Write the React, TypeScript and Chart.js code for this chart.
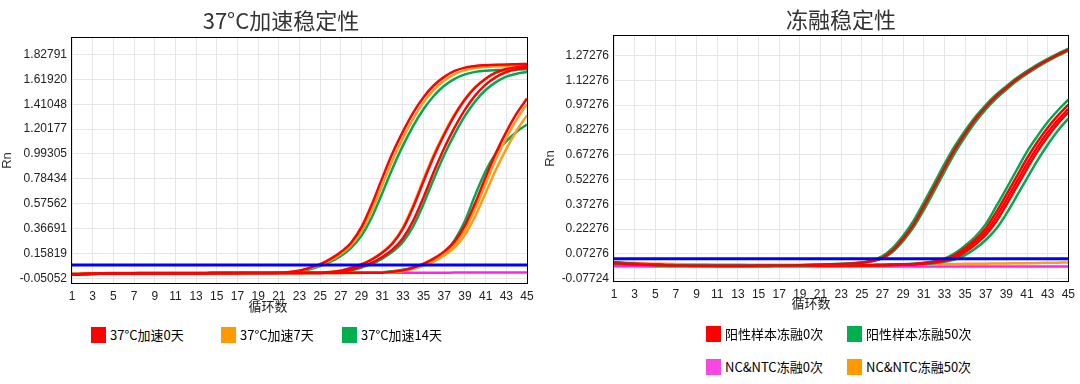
import React, { useEffect, useRef } from "react";
import { Chart, registerables } from "chart.js";

Chart.register(...registerables);

// ---------- shared categories / ticks ----------
const cycles = [
  1, 2, 3, 4, 5, 6, 7, 8, 9, 10, 11, 12, 13, 14, 15, 16, 17, 18, 19, 20, 21, 22, 23,
  24, 25, 26, 27, 28, 29, 30, 31, 32, 33, 34, 35, 36, 37, 38, 39, 40, 41, 42, 43, 44, 45,
];
const xTickValues = [1, 3, 5, 7, 9, 11, 13, 15, 17, 19, 21, 23, 25, 27, 29, 31, 33, 35, 37, 39, 41, 43, 45];

// ---------- left chart: 37°C加速稳定性 ----------
const leftTitle = "37°C加速稳定性";
const leftYTicks = [-0.05052, 0.15819, 0.36691, 0.57562, 0.78434, 0.99305, 1.20177, 1.41048, 1.6192, 1.82791];
const leftYMin = -0.099;
const leftYMax = 1.975;
const leftThreshold = 0.061;

const day0A = [
  -0.020, -0.016, -0.013, -0.011, -0.010, -0.009, -0.009, -0.008, -0.008, -0.008,
  -0.008, -0.008, -0.008, -0.008, -0.007, -0.007, -0.007, -0.007, -0.007, -0.006,
  -0.004, 0.002, 0.014, 0.038, 0.068, 0.112, 0.170, 0.250, 0.380, 0.570,
  0.790, 1.000, 1.180, 1.340, 1.470, 1.570, 1.640, 1.690, 1.718, 1.732,
  1.738, 1.742, 1.745, 1.747, 1.749,
];
const day0B1 = [
  -0.020, -0.016, -0.013, -0.011, -0.010, -0.009, -0.009, -0.008, -0.008, -0.008,
  -0.008, -0.008, -0.008, -0.008, -0.007, -0.007, -0.007, -0.007, -0.007, -0.006,
  -0.006, -0.006, -0.006, -0.005, -0.005, 0.001, 0.013, 0.035, 0.065, 0.107,
  0.163, 0.241, 0.365, 0.548, 0.764, 0.974, 1.156, 1.317, 1.450, 1.552,
  1.625, 1.677, 1.706, 1.722, 1.729,
];
const day0B2 = [
  -0.022, -0.018, -0.015, -0.013, -0.011, -0.010, -0.010, -0.009, -0.009, -0.009,
  -0.009, -0.008, -0.008, -0.008, -0.008, -0.008, -0.008, -0.007, -0.007, -0.007,
  -0.007, -0.007, -0.006, -0.006, -0.006, -0.003, 0.006, 0.021, 0.047, 0.080,
  0.128, 0.192, 0.286, 0.433, 0.630, 0.845, 1.043, 1.216, 1.365, 1.485,
  1.575, 1.638, 1.681, 1.705, 1.717,
];
const day0C = [
  -0.020, -0.016, -0.013, -0.011, -0.010, -0.009, -0.009, -0.008, -0.008, -0.008,
  -0.008, -0.008, -0.008, -0.008, -0.007, -0.007, -0.007, -0.007, -0.007, -0.006,
  -0.006, -0.006, -0.006, -0.006, -0.006, -0.006, -0.006, -0.005, -0.005, -0.005,
  -0.004, 0.003, 0.016, 0.040, 0.071, 0.116, 0.175, 0.259, 0.393, 0.583,
  0.799, 1.003, 1.178, 1.333, 1.458,
];
const day7A = [
  -0.016, -0.013, -0.011, -0.010, -0.009, -0.008, -0.008, -0.007, -0.007, -0.007,
  -0.007, -0.007, -0.006, -0.006, -0.006, -0.006, -0.006, -0.006, -0.005, -0.005,
  -0.005, -0.001, 0.011, 0.032, 0.060, 0.100, 0.154, 0.228, 0.345, 0.518,
  0.729, 0.940, 1.126, 1.290, 1.426, 1.533, 1.610, 1.664, 1.697, 1.715,
  1.723, 1.727, 1.730, 1.733, 1.735,
];
const day7B = [
  -0.016, -0.013, -0.011, -0.010, -0.009, -0.008, -0.008, -0.007, -0.007, -0.007,
  -0.007, -0.007, -0.006, -0.006, -0.006, -0.006, -0.006, -0.006, -0.005, -0.005,
  -0.005, -0.005, -0.004, -0.004, -0.003, 0.002, 0.014, 0.038, 0.068, 0.111,
  0.168, 0.248, 0.376, 0.564, 0.782, 0.990, 1.168, 1.327, 1.455, 1.554,
  1.624, 1.673, 1.701, 1.715, 1.721,
];
const day7C1 = [
  -0.016, -0.013, -0.011, -0.010, -0.009, -0.008, -0.008, -0.007, -0.007, -0.007,
  -0.007, -0.007, -0.006, -0.006, -0.006, -0.006, -0.006, -0.006, -0.005, -0.005,
  -0.005, -0.005, -0.005, -0.005, -0.005, -0.005, -0.004, -0.004, -0.004, -0.004,
  -0.004, 0.001, 0.012, 0.035, 0.063, 0.104, 0.159, 0.235, 0.356, 0.534,
  0.745, 0.950, 1.127, 1.284, 1.413,
];
const day7C2 = [
  -0.022, -0.018, -0.015, -0.013, -0.011, -0.010, -0.010, -0.009, -0.009, -0.009,
  -0.009, -0.008, -0.008, -0.008, -0.008, -0.008, -0.008, -0.007, -0.007, -0.007,
  -0.007, -0.007, -0.007, -0.007, -0.006, -0.006, -0.006, -0.006, -0.006, -0.005,
  -0.005, 0.000, 0.010, 0.028, 0.054, 0.091, 0.140, 0.208, 0.314, 0.472,
  0.666, 0.862, 1.036, 1.189, 1.317,
];
const day14A = [
  -0.022, -0.018, -0.015, -0.013, -0.011, -0.010, -0.010, -0.009, -0.009, -0.009,
  -0.009, -0.008, -0.008, -0.008, -0.008, -0.008, -0.008, -0.007, -0.007, -0.007,
  -0.006, -0.002, 0.008, 0.025, 0.052, 0.088, 0.137, 0.205, 0.307, 0.463,
  0.663, 0.873, 1.063, 1.229, 1.370, 1.482, 1.565, 1.623, 1.661, 1.682,
  1.692, 1.697, 1.700, 1.702, 1.704,
];
const day14B = [
  -0.016, -0.013, -0.011, -0.010, -0.009, -0.008, -0.008, -0.007, -0.007, -0.007,
  -0.007, -0.007, -0.006, -0.006, -0.006, -0.006, -0.006, -0.006, -0.005, -0.005,
  -0.005, -0.005, -0.005, -0.004, -0.004, -0.003, 0.003, 0.016, 0.040, 0.070,
  0.114, 0.173, 0.255, 0.387, 0.574, 0.787, 0.987, 1.160, 1.312, 1.436,
  1.530, 1.596, 1.642, 1.667, 1.681,
];
const day14C = [
  -0.020, -0.016, -0.013, -0.011, -0.010, -0.009, -0.009, -0.008, -0.008, -0.008,
  -0.008, -0.008, -0.008, -0.008, -0.007, -0.007, -0.007, -0.007, -0.007, -0.006,
  -0.006, -0.006, -0.006, -0.006, -0.006, -0.005, -0.005, -0.005, -0.004, -0.003,
  0.000, 0.008, 0.020, 0.038, 0.060, 0.095, 0.160, 0.270, 0.430, 0.650,
  0.850, 1.000, 1.100, 1.180, 1.240,
];
const ntcLeft = [
  -0.010, -0.009, -0.008, -0.008, -0.007, -0.007, -0.007, -0.006, -0.006, -0.006,
  -0.006, -0.006, -0.006, -0.006, -0.006, -0.005, -0.005, -0.005, -0.005, -0.005,
  -0.005, -0.005, -0.005, -0.005, -0.005, -0.005, -0.004, -0.004, -0.004, -0.004,
  -0.004, -0.004, -0.004, -0.004, -0.004, -0.004, -0.004, -0.003, -0.003, -0.003,
  -0.003, -0.003, -0.003, -0.003, -0.003,
];
const leftLegendLabels = ["37°C加速0天", "37°C加速7天", "37°C加速14天"];

// ---------- right chart: 冻融稳定性 ----------
const rightTitle = "冻融稳定性";
const rightYTicks = [-0.07724, 0.07276, 0.22276, 0.37276, 0.52276, 0.67276, 0.82276, 0.97276, 1.12276, 1.27276];
const rightYMin = -0.097;
const rightYMax = 1.396;
const rightThreshold = 0.0435;

const ft0High = [
  0.016, 0.013, 0.010, 0.008, 0.006, 0.004, 0.003, 0.002, 0.001, 0.001,
  0.001, 0.001, 0.001, 0.001, 0.002, 0.002, 0.003, 0.003, 0.004, 0.006,
  0.008, 0.010, 0.012, 0.015, 0.020, 0.030, 0.050, 0.095, 0.165, 0.250,
  0.360, 0.475, 0.592, 0.705, 0.800, 0.888, 0.960, 1.025, 1.077, 1.128,
  1.170, 1.210, 1.245, 1.278, 1.307,
];
const ft50HighA = [
  0.018, 0.015, 0.012, 0.009, 0.007, 0.005, 0.004, 0.003, 0.002, 0.002,
  0.002, 0.002, 0.002, 0.002, 0.002, 0.003, 0.003, 0.004, 0.005, 0.007,
  0.009, 0.011, 0.013, 0.016, 0.022, 0.034, 0.059, 0.109, 0.182, 0.272,
  0.383, 0.498, 0.615, 0.724, 0.818, 0.902, 0.973, 1.035, 1.087, 1.136,
  1.178, 1.217, 1.252, 1.284, 1.313,
];
const ft50HighB = [
  0.014, 0.011, 0.009, 0.007, 0.005, 0.003, 0.002, 0.001, 0.000, 0.000,
  0.000, 0.000, 0.000, 0.000, 0.001, 0.001, 0.002, 0.002, 0.003, 0.005,
  0.007, 0.009, 0.011, 0.014, 0.019, 0.028, 0.046, 0.086, 0.151, 0.233,
  0.338, 0.452, 0.569, 0.682, 0.781, 0.870, 0.946, 1.012, 1.067, 1.118,
  1.162, 1.202, 1.238, 1.271, 1.301,
];
const ft0LowA = [
  0.017, 0.014, 0.011, 0.008, 0.006, 0.004, 0.003, 0.002, 0.001, 0.001,
  0.000, 0.000, 0.000, 0.000, 0.000, 0.000, 0.001, 0.001, 0.001, 0.001,
  0.002, 0.002, 0.002, 0.003, 0.003, 0.004, 0.005, 0.007, 0.009, 0.012,
  0.017, 0.026, 0.039, 0.066, 0.108, 0.160, 0.228, 0.323, 0.431, 0.541,
  0.651, 0.749, 0.836, 0.910, 0.976,
];
const ft0LowB = [
  0.022, 0.018, 0.014, 0.011, 0.008, 0.006, 0.005, 0.004, 0.003, 0.002,
  0.002, 0.002, 0.001, 0.001, 0.001, 0.001, 0.001, 0.002, 0.002, 0.002,
  0.003, 0.003, 0.004, 0.004, 0.005, 0.005, 0.006, 0.007, 0.009, 0.011,
  0.016, 0.024, 0.035, 0.058, 0.095, 0.145, 0.207, 0.294, 0.399, 0.508,
  0.617, 0.718, 0.806, 0.883, 0.949,
];
const ft0LowC = [
  0.020, 0.016, 0.012, 0.009, 0.007, 0.005, 0.004, 0.003, 0.002, 0.002,
  0.001, 0.001, 0.001, 0.001, 0.001, 0.001, 0.001, 0.001, 0.002, 0.002,
  0.002, 0.003, 0.003, 0.004, 0.004, 0.005, 0.006, 0.006, 0.008, 0.010,
  0.015, 0.021, 0.032, 0.049, 0.083, 0.130, 0.188, 0.267, 0.370, 0.478,
  0.587, 0.691, 0.781, 0.861, 0.929,
];
const ft50LowTop = [
  0.020, 0.016, 0.012, 0.009, 0.007, 0.005, 0.004, 0.003, 0.002, 0.002,
  0.001, 0.001, 0.001, 0.001, 0.001, 0.001, 0.001, 0.001, 0.002, 0.002,
  0.002, 0.003, 0.003, 0.004, 0.004, 0.005, 0.006, 0.008, 0.010, 0.014,
  0.020, 0.029, 0.044, 0.076, 0.123, 0.178, 0.253, 0.358, 0.468, 0.580,
  0.691, 0.784, 0.870, 0.941, 1.005,
];
const ft50LowBottom = [
  0.017, 0.014, 0.011, 0.008, 0.006, 0.004, 0.003, 0.002, 0.001, 0.001,
  0.000, 0.000, 0.000, 0.000, 0.000, 0.000, 0.001, 0.001, 0.001, 0.001,
  0.002, 0.002, 0.002, 0.003, 0.003, 0.004, 0.005, 0.006, 0.007, 0.009,
  0.012, 0.017, 0.026, 0.038, 0.065, 0.105, 0.157, 0.223, 0.316, 0.422,
  0.530, 0.637, 0.733, 0.819, 0.891,
];
const ntcFt0 = [
  -0.001, -0.002, -0.002, -0.003, -0.003, -0.003, -0.003, -0.004, -0.004, -0.004,
  -0.004, -0.004, -0.004, -0.004, -0.004, -0.004, -0.004, -0.004, -0.004, -0.004,
  -0.004, -0.004, -0.004, -0.004, -0.004, -0.004, -0.004, -0.004, -0.004, -0.004,
  -0.004, -0.004, -0.004, -0.004, -0.004, -0.003, -0.003, -0.003, -0.003, -0.003,
  -0.003, -0.003, -0.003, -0.003, -0.003,
];
const ntcFt50 = [
  0.022, 0.020, 0.018, 0.016, 0.014, 0.013, 0.012, 0.011, 0.010, 0.010,
  0.009, 0.009, 0.009, 0.008, 0.008, 0.008, 0.008, 0.008, 0.008, 0.008,
  0.008, 0.008, 0.008, 0.009, 0.009, 0.009, 0.009, 0.010, 0.010, 0.010,
  0.011, 0.011, 0.012, 0.012, 0.013, 0.013, 0.014, 0.015, 0.015, 0.016,
  0.017, 0.018, 0.019, 0.020, 0.021,
];
const rightLegendLabels = ["阳性样本冻融0次", "阳性样本冻融50次", "NC&NTC冻融0次", "NC&NTC冻融50次"];

// ---------- styles ----------
const RED = "#ff0000";
const ORANGE = "#ff9a1a";
const GREEN = "#00a850";
const MAGENTA = "#ff22ee";
const BLUE = "#0000ff";
const LEG_RED = "#ff0000";
const LEG_ORANGE = "#ff9900";
const LEG_GREEN = "#00b050";
const LEG_MAGENTA = "#f848e4";

const CJK = '"Noto Sans CJK SC", "Noto Sans", sans-serif';
const LAT = '"Liberation Sans", Arial, sans-serif';

type Line = { values: number[]; color: string };

const leftLines: Line[] = [
  { values: day0A, color: RED },
  { values: day0B1, color: RED },
  { values: day0B2, color: RED },
  { values: day0C, color: RED },
  { values: day7A, color: ORANGE },
  { values: day7B, color: ORANGE },
  { values: day7C1, color: ORANGE },
  { values: day7C2, color: ORANGE },
  { values: day14A, color: GREEN },
  { values: day14B, color: GREEN },
  { values: day14C, color: GREEN },
  { values: ntcLeft, color: MAGENTA },
];

const rightLines: Line[] = [
  { values: ft0High, color: RED },
  { values: ft50HighA, color: GREEN },
  { values: ft50HighB, color: GREEN },
  { values: ft0LowA, color: RED },
  { values: ft0LowB, color: RED },
  { values: ft0LowC, color: RED },
  { values: ft50LowTop, color: GREEN },
  { values: ft50LowBottom, color: GREEN },
  { values: ntcFt50, color: ORANGE },
  { values: ntcFt0, color: MAGENTA },
];

const CANVAS_W = 540;
const CANVAS_H = 320;
const X_AXIS_H = 20;

const framePlugin = {
  id: "plotFrame",
  beforeDatasetsDraw(chart: any) {
    const { ctx, chartArea: a } = chart;
    ctx.save();
    ctx.strokeStyle = "#000";
    ctx.lineWidth = 1;
    ctx.strokeRect(
      Math.round(a.left) - 0.5,
      Math.round(a.top) + 0.5,
      Math.round(a.right - a.left) + 1,
      Math.round(a.bottom - a.top) - 1
    );
    ctx.restore();
  },
};

interface PanelProps {
  lines: Line[];
  threshold: number;
  yTicks: number[];
  yMin: number;
  yMax: number;
  left: number;
  areaTop: number;
  areaBottom: number;
  axisWidth: number;
  padRight: number;
  rnPad: number;
}

function Panel(p: PanelProps) {
  const ref = useRef<HTMLCanvasElement>(null);
  useEffect(() => {
    const canvas = ref.current;
    if (!canvas) return;
    const datasets: any[] = [
      {
        data: [
          { x: cycles[0], y: p.threshold },
          { x: cycles[cycles.length - 1], y: p.threshold },
        ],
        borderColor: BLUE,
        borderWidth: 3,
        pointRadius: 0,
        tension: 0,
        fill: false,
      },
      ...p.lines.map((l) => ({
        data: l.values.map((y, i) => ({ x: cycles[i], y })),
        borderColor: l.color,
        borderWidth: 2.5,
        pointRadius: 0,
        cubicInterpolationMode: "monotone",
        fill: false,
      })),
    ];
    const chart = new Chart(canvas, {
      type: "line",
      data: { datasets },
      options: {
        animation: false,
        responsive: false,
        devicePixelRatio: 1,
        events: [],
        layout: {
          padding: {
            left: 0,
            top: p.areaTop,
            right: p.padRight,
            bottom: CANVAS_H - p.areaBottom - X_AXIS_H,
          },
        },
        plugins: {
          legend: { display: false },
          title: { display: false },
          tooltip: { enabled: false },
        },
        scales: {
          x: {
            type: "linear",
            min: cycles[0],
            max: cycles[cycles.length - 1],
            afterBuildTicks: (s: any) => {
              s.ticks = xTickValues.map((v) => ({ value: v }));
            },
            afterFit: (s: any) => {
              s.height = X_AXIS_H;
            },
            grid: { color: "#e6e6e6", drawTicks: false, lineWidth: 1 },
            border: { display: false },
            ticks: {
              autoSkip: false,
              maxRotation: 0,
              padding: 5,
              color: "#222",
              font: { family: LAT, size: 12 },
              callback: (v: any) => String(v),
            },
          },
          y: {
            type: "linear",
            min: p.yMin,
            max: p.yMax,
            afterBuildTicks: (s: any) => {
              s.ticks = p.yTicks.map((v) => ({ value: v }));
            },
            afterFit: (s: any) => {
              s.width = p.axisWidth;
            },
            grid: { color: "#e6e6e6", drawTicks: false, lineWidth: 1 },
            border: { display: false },
            ticks: {
              padding: 5,
              color: "#222",
              font: { family: LAT, size: 12 },
              callback: (v: any) => Number(v).toFixed(5),
            },
            title: {
              display: true,
              text: "Rn",
              color: "#333",
              font: { family: LAT, size: 13 },
              padding: { top: p.rnPad, bottom: 0 },
            },
          },
        },
      } as any,
      plugins: [framePlugin],
    });
    return () => chart.destroy();
  }, []);
  return (
    <canvas
      ref={ref}
      width={CANVAS_W}
      height={CANVAS_H}
      style={{ position: "absolute", left: p.left, top: 0, width: CANVAS_W, height: CANVAS_H }}
    />
  );
}

function LegendItem({ x, y, color, label }: { x: number; y: number; color: string; label: string }) {
  return (
    <div
      style={{
        position: "absolute",
        left: x,
        top: y,
        height: 16,
        display: "flex",
        alignItems: "center",
        whiteSpace: "nowrap",
        fontFamily: CJK,
        fontSize: 13,
        color: "#000",
      }}
    >
      <span style={{ display: "inline-block", width: 15, height: 16, background: color, marginRight: 4 }} />
      <span style={{ lineHeight: "16px" }}>{label}</span>
    </div>
  );
}

function TextAt({ cx, top, size, color, children }: { cx: number; top: number; size: number; color: string; children: React.ReactNode }) {
  return (
    <div
      style={{
        position: "absolute",
        left: cx - 150,
        width: 300,
        top,
        textAlign: "center",
        fontFamily: CJK,
        fontSize: size,
        lineHeight: `${size}px`,
        color,
        whiteSpace: "nowrap",
      }}
    >
      {children}
    </div>
  );
}

export default function App() {
  const leftColors = [LEG_RED, LEG_ORANGE, LEG_GREEN];
  const leftLegendX = [91, 221, 342];
  const rightColors = [LEG_RED, LEG_GREEN, LEG_MAGENTA, LEG_ORANGE];
  const rightLegendX = [706, 847, 706, 847];
  const rightLegendY = [326, 326, 359, 359];
  return (
    <div style={{ position: "absolute", left: 0, top: 0, width: 1080, height: 384, background: "#fff", overflow: "hidden" }}>
      <Panel
        lines={leftLines}
        threshold={leftThreshold}
        yTicks={leftYTicks}
        yMin={leftYMin}
        yMax={leftYMax}
        left={0}
        areaTop={37}
        areaBottom={284}
        axisWidth={72}
        padRight={13}
        rnPad={0}
      />
      <Panel
        lines={rightLines}
        threshold={rightThreshold}
        yTicks={rightYTicks}
        yMin={rightYMin}
        yMax={rightYMax}
        left={540}
        areaTop={35}
        areaBottom={282}
        axisWidth={74}
        padRight={11}
        rnPad={3}
      />
      <TextAt cx={281} top={8} size={22} color="#333">{leftTitle}</TextAt>
      <TextAt cx={841} top={7} size={22} color="#333">{rightTitle}</TextAt>
      <TextAt cx={268} top={299} size={13} color="#222">循环数</TextAt>
      <TextAt cx={811} top={296} size={13} color="#222">循环数</TextAt>
      {leftLegendLabels.map((lab, i) => (
        <LegendItem key={lab} x={leftLegendX[i]} y={327} color={leftColors[i]} label={lab} />
      ))}
      {rightLegendLabels.map((lab, i) => (
        <LegendItem key={lab} x={rightLegendX[i]} y={rightLegendY[i]} color={rightColors[i]} label={lab} />
      ))}
    </div>
  );
}
